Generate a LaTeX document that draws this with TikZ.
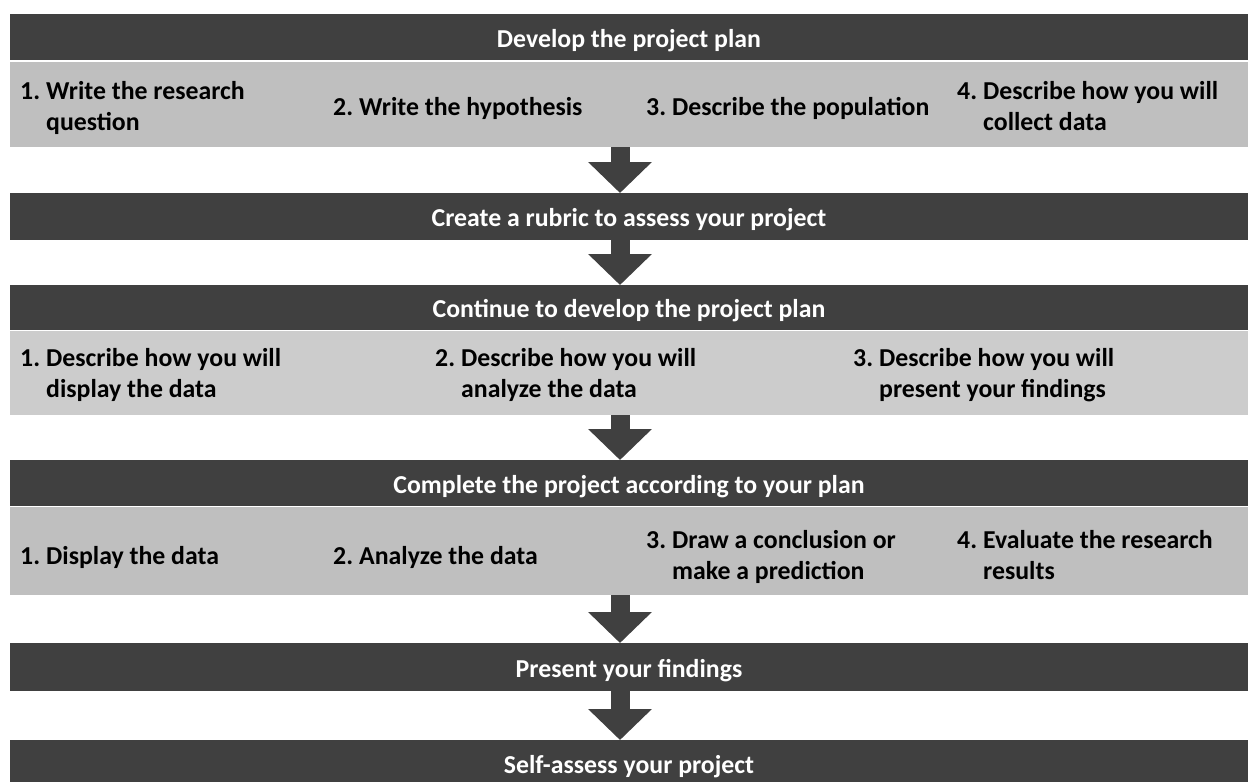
\documentclass[tikz,border=0pt]{standalone}
\usepackage{fontspec}
\setmainfont{Carlito}
\usetikzlibrary{arrows.meta}
\definecolor{dk}{HTML}{404040}
\definecolor{ltA}{HTML}{BFBFBF}
\definecolor{ltB}{HTML}{CCCCCC}
\newcommand{\hdrfont}{\fontsize{25.8}{31}\selectfont\bfseries}
\newcommand{\bodyfont}{\fontsize{25.8}{31}\selectfont\bfseries}
\newcommand{\itm}[2]{\begin{tabular}{@{}p{26pt}@{}l@{}}#1 & #2\end{tabular}}
\tikzset{
  hdr/.style={fill=dk, text=white, minimum width=1238pt, inner sep=0pt, outer sep=0pt, anchor=north west, font=\hdrfont, text height=20.5pt, text depth=0pt},
  band/.style={fill=#1, minimum width=1238pt, inner sep=0pt, outer sep=0pt, anchor=north west},
  itemtext/.style={anchor=west, inner sep=0pt, font=\bodyfont, align=left},
  fat/.style={draw=dk, line width=19pt, -{Triangle[width=62pt,length=31pt]}, shorten >=0pt}
}
\begin{document}
\begin{tikzpicture}[x=1pt,y=-1pt]
\useasboundingbox (0,0) rectangle (1248,782);
\clip (0,0) rectangle (1248,782);
\coordinate (ax) at (620,0);
% headers
\node[hdr, minimum height=46pt] (h1) at (10,14) {Develop the project plan};
\node[hdr, minimum height=47pt] (h2) at (10,193) {Create a rubric to assess your project};
\node[hdr, minimum height=45pt] (h3) at (10,285) {Continue to develop the project plan};
\node[hdr, minimum height=46pt] (h4) at (10,460) {Complete the project according to your plan};
\node[hdr, minimum height=48pt] (h5) at (10,643) {Present your findings};
\node[hdr, minimum height=46pt] (h6) at (10,740) {Self-assess your project};
% light bands
\node[band=ltA, minimum height=85pt] (l1) at (10,62) {};
\node[band=ltB, minimum height=84pt] (l3) at (10,331) {};
\node[band=ltA, minimum height=88pt] (l4) at (10,507) {};
% row 1 items
\node[itemtext] (a1) at (20,109) {\itm{1.}{Write the research\\ & question}};
\node[itemtext] (a2) at (333,109) {\itm{2.}{Write the hypothesis}};
\node[itemtext] (a3) at (646,109) {\itm{3.}{Describe the population}};
\node[itemtext] (a4) at (957,109) {\itm{4.}{Describe how you will\\ & collect data}};
% row 3 items
\node[itemtext] (c1) at (20,376) {\itm{1.}{Describe how you will\\ & display the data}};
\node[itemtext] (c2) at (435,376) {\itm{2.}{Describe how you will\\ & analyze the data}};
\node[itemtext] (c3) at (853,376) {\itm{3.}{Describe how you will\\ & present your findings}};
% row 4 items
\node[itemtext] (d1) at (20,558) {\itm{1.}{Display the data}};
\node[itemtext] (d2) at (333,558) {\itm{2.}{Analyze the data}};
\node[itemtext] (d3) at (646,558) {\itm{3.}{Draw a conclusion or\\ & make a prediction}};
\node[itemtext] (d4) at (957,558) {\itm{4.}{Evaluate the research\\ & results}};
% arrows
\draw[fat] (l1.south -| ax) -- (h2.north -| ax);
\draw[fat] (h2.south -| ax) -- (h3.north -| ax);
\draw[fat] (l3.south -| ax) -- (h4.north -| ax);
\draw[fat] (l4.south -| ax) -- (h5.north -| ax);
\draw[fat] (h5.south -| ax) -- (h6.north -| ax);
\end{tikzpicture}
\end{document}
